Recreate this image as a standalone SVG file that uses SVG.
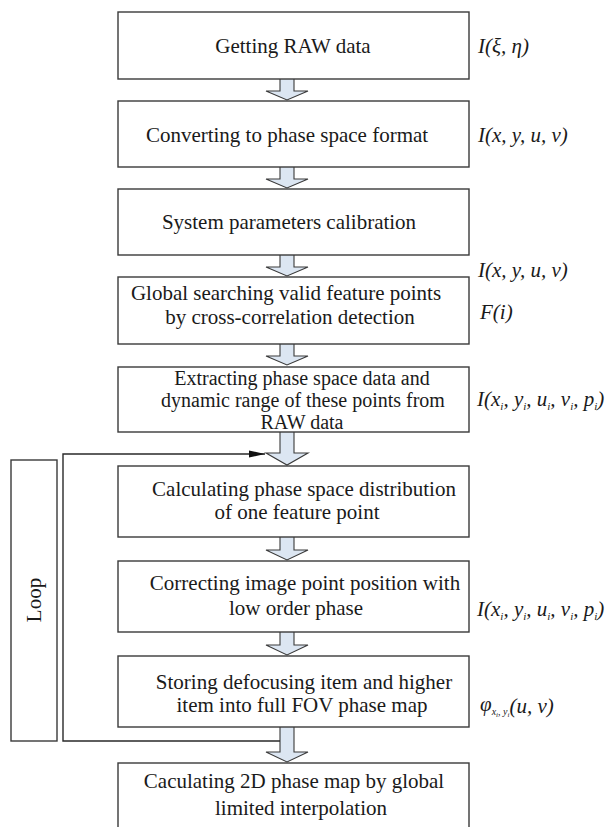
<svg xmlns="http://www.w3.org/2000/svg" width="611" height="827" viewBox="0 0 611 827">
<style>
.box{fill:#fff;stroke:#3a3a3a;stroke-width:1.4}
.t{font-family:"Liberation Serif","Times New Roman",serif;font-size:21px;fill:#1a1a1a;text-anchor:middle}
.t5{font-size:20px}
.lb{font-family:"Liberation Serif","Times New Roman",serif;font-size:21px;font-style:italic;fill:#1a1a1a}
.sb{font-size:11px}
.ar{fill:#dce6f2;stroke:#3a3a3a;stroke-width:1.1;stroke-linejoin:miter}
.ln{fill:none;stroke:#2a2a2a;stroke-width:1.4}
</style>
<defs>
<marker id="ah" markerUnits="userSpaceOnUse" markerWidth="17" markerHeight="8" refX="16" refY="4" orient="auto">
<path d="M0,0.5 L16,4 L0,7.5 z" fill="#111"/>
</marker>
</defs>
<rect width="611" height="827" fill="#fff"/>

<g id="connectors">
<path class="ar" d="M280,79 V91 H266 L287,100 L308,91 H294 V79"/>
<path class="ar" d="M280,167 V179 H266 L287,188 L308,179 H294 V167"/>
<path class="ar" d="M280,255 V267 H266 L287,276 L308,267 H294 V255"/>
<path class="ar" d="M280,344 V356 H266 L287,365 L308,356 H294 V344"/>
<path class="ar" d="M280,432 V453 H266 L287,465 L308,453 H294 V432"/>
<path class="ar" d="M280,537 V550 H266 L287,560 L308,550 H294 V537"/>
<path class="ar" d="M280,632 V645 H266 L287,655 L308,645 H294 V632"/>
<path class="ar" d="M280,727 V752 H266 L287,762 L308,752 H294 V727"/>
<path class="ln" d="M280,741 H63 V454 H265" marker-end="url(#ah)"/>
</g>

<g id="loop">
<rect class="box" x="11" y="460" width="46" height="281"/>
<text class="t" transform="translate(41,600) rotate(-90)">Loop</text>
</g>

<g id="n1">
<rect class="box" x="118" y="12" width="351" height="67"/>
<text class="t" x="293" y="53">Getting RAW data</text>
<text class="lb" x="478" y="53">I(ξ, η)</text>
</g>

<g id="n2">
<rect class="box" x="118" y="101" width="351" height="66"/>
<text class="t" x="287" y="142">Converting to phase space format</text>
<text class="lb" x="478" y="142">I(x, y, u, v)</text>
</g>

<g id="n3">
<rect class="box" x="118" y="189" width="351" height="66"/>
<text class="t" x="289" y="229">System parameters calibration</text>
<text class="lb" x="478" y="277">I(x, y, u, v)</text>
</g>

<g id="n4">
<rect class="box" x="118" y="277" width="351" height="67"/>
<text class="t" x="286" y="300">Global searching valid feature points</text>
<text class="t" x="290" y="324">by cross-correlation detection</text>
<text class="lb" x="480" y="319">F(i)</text>
</g>

<g id="n5">
<rect class="box" x="118" y="367" width="351" height="65"/>
<text class="t t5" x="302" y="385">Extracting phase space data and</text>
<text class="t t5" x="303" y="407">dynamic range of these points from</text>
<text class="t t5" x="302" y="429">RAW data</text>
<text class="lb" x="477" y="406">I(x<tspan class="sb" dy="4">i</tspan><tspan dy="-4">, y</tspan><tspan class="sb" dy="4">i</tspan><tspan dy="-4">, u</tspan><tspan class="sb" dy="4">i</tspan><tspan dy="-4">, v</tspan><tspan class="sb" dy="4">i</tspan><tspan dy="-4">, p</tspan><tspan class="sb" dy="4">i</tspan><tspan dy="-4">)</tspan></text>
</g>

<g id="n6">
<rect class="box" x="118" y="466" width="351" height="71"/>
<text class="t" x="304" y="496">Calculating phase space distribution</text>
<text class="t" x="297" y="519">of one feature point</text>
</g>

<g id="n7">
<rect class="box" x="118" y="561" width="351" height="71"/>
<text class="t" x="305" y="590">Correcting image point position with</text>
<text class="t" x="296" y="615">low order phase</text>
<text class="lb" x="477" y="616">I(x<tspan class="sb" dy="4">i</tspan><tspan dy="-4">, y</tspan><tspan class="sb" dy="4">i</tspan><tspan dy="-4">, u</tspan><tspan class="sb" dy="4">i</tspan><tspan dy="-4">, v</tspan><tspan class="sb" dy="4">i</tspan><tspan dy="-4">, p</tspan><tspan class="sb" dy="4">i</tspan><tspan dy="-4">)</tspan></text>
</g>

<g id="n8">
<rect class="box" x="118" y="656" width="351" height="71"/>
<text class="t" x="304" y="689">Storing defocusing item and higher</text>
<text class="t" x="302" y="712">item into full FOV phase map</text>
<text class="lb" x="480" y="711">φ<tspan font-size="10" dy="4">x</tspan><tspan font-size="7" dy="2">i</tspan><tspan font-size="10" dy="-2">, y</tspan><tspan font-size="7" dy="2">i</tspan><tspan dy="-4">(u, v)</tspan></text>
</g>

<g id="n9">
<rect class="box" x="118" y="763" width="351" height="80"/>
<text class="t" x="294" y="788">Caculating 2D phase map by global</text>
<text class="t" x="301" y="815">limited interpolation</text>
</g>
</svg>
